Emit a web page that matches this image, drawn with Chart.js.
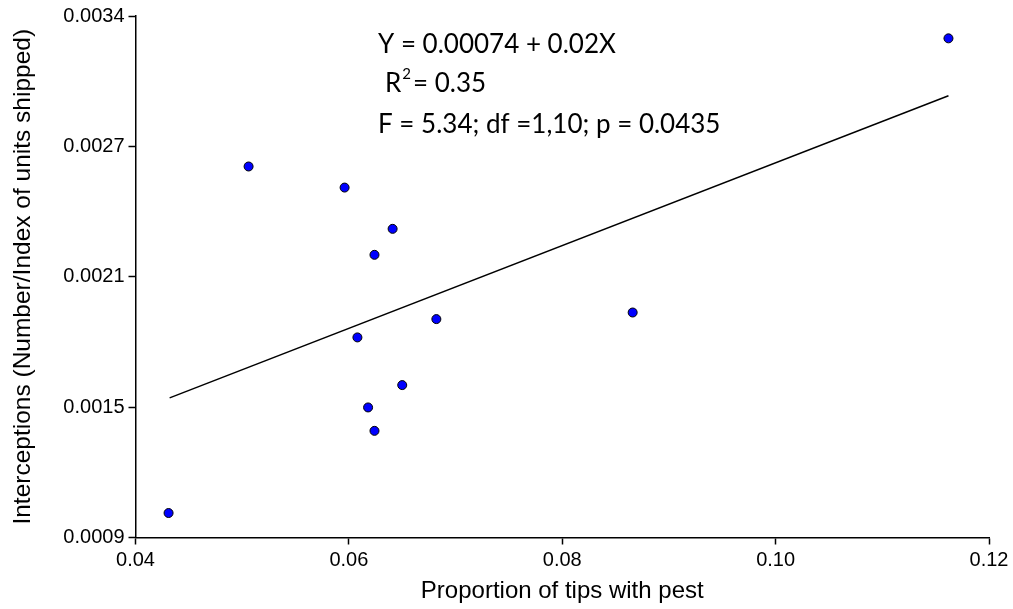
<!DOCTYPE html>
<html><head><meta charset="utf-8">
<script src="https://cdn.jsdelivr.net/npm/chart.js@4/dist/chart.umd.min.js"></script>
<style>html,body{margin:0;padding:0;background:#fff;}#wrap{width:1013px;height:609px;position:relative;}</style>
</head><body><div id="wrap"><canvas id="c" width="1013" height="609"></canvas></div>
<script>
const proportionTips = [0.0431, 0.0506, 0.0596, 0.0641, 0.0624, 0.0682, 0.0608, 0.0650, 0.0618, 0.0624, 0.1162, 0.0866];
const interceptions = [0.001015, 0.002643, 0.002544, 0.00235, 0.002228, 0.001926, 0.00184, 0.001616, 0.001511, 0.001401, 0.003245, 0.001957];
const fitX = [0.0432, 0.1162];
const fitY = [0.001556, 0.002975];
const xTickValues = [0.04, 0.06, 0.08, 0.10, 0.12];
const xTickLabels = ['0.04', '0.06', '0.08', '0.10', '0.12'];
const yTickValues = [0.0009, 0.0015125, 0.002125, 0.0027375, 0.00335];
const yTickLabels = ['0.0009', '0.0015', '0.0021', '0.0027', '0.0034'];
const xTitle = 'Proportion of tips with pest';
const yTitle = 'Interceptions (Number/Index of units shipped)';
const eqLine = 'Y = 0.00074 + 0.02X';
const r2Label = ['R', '2', '= 0.35'];
const statLine = 'F = 5.34; df =1,10; p = 0.0435';

const scatterData = proportionTips.map((x, i) => ({x, y: interceptions[i]}));
const fitData = fitX.map((x, i) => ({x, y: fitY[i]}));

const statsPlugin = {
  id: 'stats',
  afterDraw(chart) {
    const ctx = chart.ctx;
    ctx.save();
    ctx.fillStyle = '#000';
    ctx.textAlign = 'left';
    ctx.textBaseline = 'alphabetic';
    ctx.font = '26px Lato';
    ctx.fillText(eqLine, 378, 53);
    ctx.fillText(r2Label[0], 385, 92);
    let w = ctx.measureText(r2Label[0]).width;
    ctx.font = '15px Lato';
    ctx.fillText(r2Label[1], 385 + w + 1, 79);
    let w2 = ctx.measureText(r2Label[1]).width;
    ctx.font = '26px Lato';
    ctx.fillText(r2Label[2], 385 + w + w2 + 3, 92);
    ctx.fillText(statLine, 378, 133);
    ctx.restore();
  }
};

new Chart(document.getElementById('c'), {
  type: 'scatter',
  data: {
    datasets: [
      {
        data: fitData, showLine: true, borderColor: '#000', borderWidth: 1.5,
        pointRadius: 0, fill: false, order: 2
      },
      {
        data: scatterData, backgroundColor: '#0000ff', borderColor: '#000',
        borderWidth: 1, pointRadius: 4.5, order: 1
      }
    ]
  },
  options: {
    responsive: false,
    devicePixelRatio: 1,
    animation: false,
    layout: {padding: {top: 15, right: 24, bottom: 0, left: 0}},
    plugins: {legend: {display: false}, tooltip: {enabled: false}},
    scales: {
      x: {
        type: 'linear', min: 0.04, max: 0.12,
        afterBuildTicks: s => { s.ticks = xTickValues.map(v => ({value: v})); },
        afterFit: s => { s.height = 71.5; },
        grid: {display: true, drawOnChartArea: false, drawTicks: true, tickLength: 7, tickColor: '#000', tickWidth: 1.5},
        border: {display: true, color: '#000', width: 1.5},
        ticks: {
          color: '#000', padding: 4, maxRotation: 0, autoSkip: false,
          font: {family: 'Liberation Sans', size: 20},
          callback: (v) => { const i = xTickValues.findIndex(t => Math.abs(t - v) < 1e-9); return i >= 0 ? xTickLabels[i] : ''; }
        },
        title: {display: true, text: xTitle, color: '#000', font: {family: 'Liberation Sans', size: 24}, padding: {top: 0, bottom: 3}}
      },
      y: {
        type: 'linear', min: 0.0009, max: 0.00335,
        afterBuildTicks: s => { s.ticks = yTickValues.map(v => ({value: v})); },
        afterFit: s => { s.width = 135.5; },
        grid: {display: true, drawOnChartArea: false, drawTicks: true, tickLength: 7, tickColor: '#000', tickWidth: 1.5},
        border: {display: true, color: '#000', width: 1.5},
        ticks: {
          color: '#000', padding: 4, autoSkip: false,
          font: {family: 'Liberation Sans', size: 20},
          callback: (v) => { const i = yTickValues.findIndex(t => Math.abs(t - v) < 1e-12); return i >= 0 ? yTickLabels[i] : ''; }
        },
        title: {display: true, text: yTitle, color: '#000', font: {family: 'Liberation Sans', size: 24.5}, padding: {top: 9, bottom: 0}}
      }
    }
  },
  plugins: [statsPlugin]
});
</script></body></html>
